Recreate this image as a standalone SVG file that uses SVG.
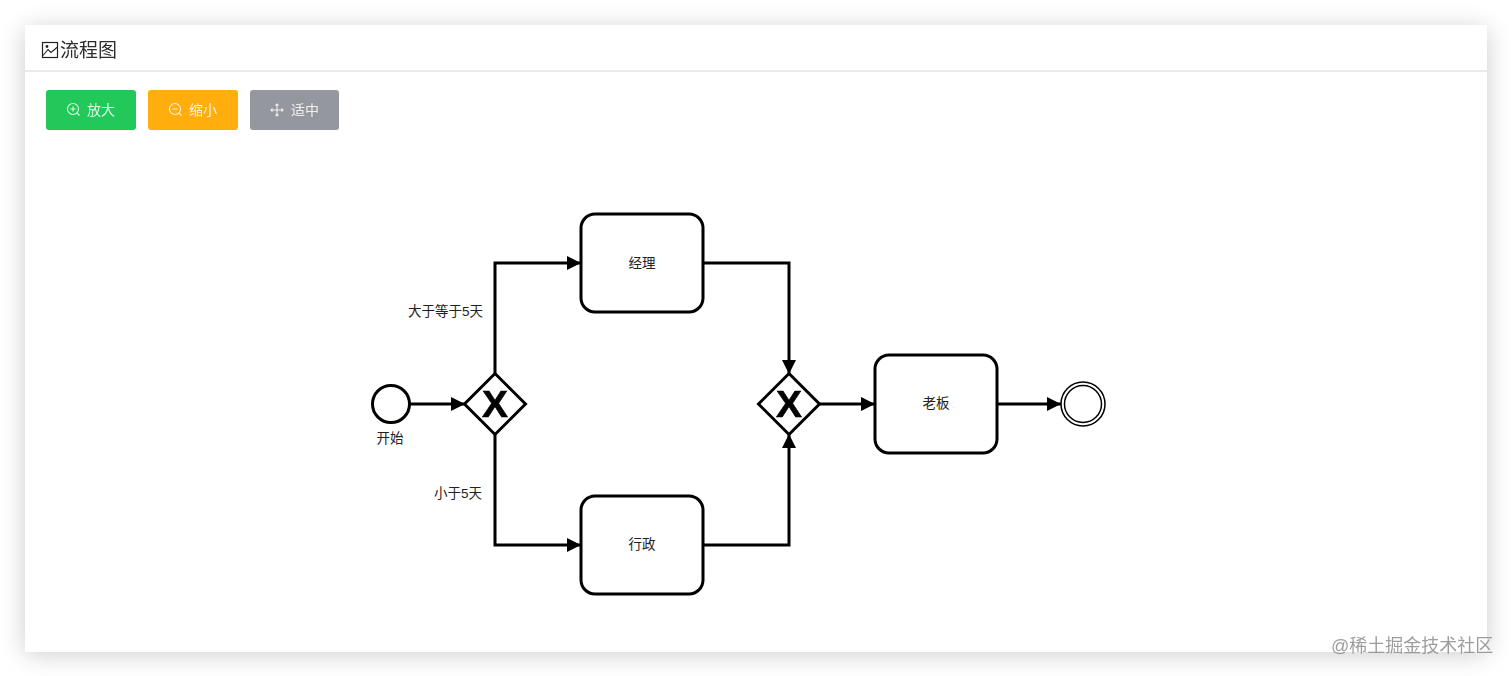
<svg xmlns="http://www.w3.org/2000/svg" width="1512" height="676" viewBox="0 0 1512 676">
<style>
text{font-family:"Liberation Sans","Noto Sans CJK SC",sans-serif}
.n{fill:#fff;stroke:#000;stroke-width:3}
.l{font-size:13.500px;fill:#222;text-anchor:middle}
.c{fill:none;stroke:#000;stroke-width:3;marker-end:url(#a)}
.b{font-size:14px;fill:#fff;opacity:.85}
.i{fill:none;stroke:#fff;stroke-width:1.100;opacity:.85}
.x{font-size:37px;font-weight:700;fill:#000;stroke:#000;stroke-width:.6;text-anchor:middle;opacity:.99}
</style>
<defs>
<filter id="s" x="-5%" y="-10%" width="110%" height="120%"><feGaussianBlur stdDeviation="13"/></filter>
<marker id="a" markerUnits="userSpaceOnUse" markerWidth="16" markerHeight="16" refX="15" refY="8" orient="auto"><path d="M1 1L15 8L1 15Z" fill="#000"/></marker>
</defs>
<rect width="1512" height="676" fill="#fff"/>
<rect x="25" y="29" width="1462" height="625" fill="#000" opacity=".2" filter="url(#s)"/>
<rect x="25" y="25" width="1462" height="627" fill="#fff"/>
<rect x="25" y="70" width="1462" height="2" fill="#e8e9eb"/>
<g id="title">
<rect x="42.500" y="42.500" width="15" height="15" fill="none" stroke="#222" stroke-width="1.200"/>
<path d="M43 55.500L48 49.500L51 52.500L57.500 47" fill="none" stroke="#222" stroke-width="1.100"/>
<circle cx="47" cy="46.500" r="1.400" fill="#222"/>
<text x="60" y="57" font-size="19px" fill="#222" opacity=".95">流程图</text>
</g>
<g id="btn-zoom-in">
<rect x="46" y="90" width="90" height="40" rx="3" fill="#22c95a"/>
<circle cx="73" cy="109" r="5.500" class="i"/><path d="M77 113L79.500 115.500M70.500 109H75.500M73 106.500V111.500" class="i"/>
<text x="87" y="115" class="b">放大</text>
</g>
<g id="btn-zoom-out">
<rect x="148" y="90" width="90" height="40" rx="3" fill="#ffae0d"/>
<circle cx="175" cy="109" r="5.500" class="i"/><path d="M179 113L181.500 115.500M172.500 109H177.500" class="i"/>
<text x="189" y="115" class="b">缩小</text>
</g>
<g id="btn-fit">
<rect x="250" y="90" width="89" height="40" rx="3" fill="#94979d"/>
<path d="M271 110H283M277 104V116M272.500 108.500L271 110L272.500 111.500M281.500 108.500L283 110L281.500 111.500M275.500 105.500L277 104L278.500 105.500M275.500 114.500L277 116L278.500 114.500" class="i"/>
<text x="291" y="115" class="b">适中</text>
</g>
<g id="connectors">
<path class="c" d="M410 404H465"/>
<path class="c" d="M495 373V263H581"/>
<path class="c" d="M495 435V545H581"/>
<path class="c" d="M704 263H789V374"/>
<path class="c" d="M704 545H789V434"/>
<path class="c" d="M820 404H875"/>
<path class="c" d="M998 404H1061"/>
</g>
<g id="start"><circle class="n" cx="391" cy="404" r="18.500"/><text class="l" x="390" y="443">开始</text></g>
<g id="gw1"><path class="n" d="M495 373.500L525.500 404L495 434.500L464.500 404Z"/><text class="x" transform="translate(495 417) scale(1.050 1)">X</text></g>
<g id="manager"><rect class="n" x="581" y="214" width="122" height="98" rx="14"/><text class="l" x="642" y="267.500">经理</text></g>
<g id="admin"><rect class="n" x="581" y="496" width="122" height="98" rx="14"/><text class="l" x="642" y="549">行政</text></g>
<g id="gw2"><path class="n" d="M789 373.500L819.500 404L789 434.500L758.500 404Z"/><text class="x" transform="translate(789 417) scale(1.050 1)">X</text></g>
<g id="boss"><rect class="n" x="875" y="355" width="122" height="98" rx="14"/><text class="l" x="936" y="408">老板</text></g>
<g id="end"><circle cx="1083" cy="404" r="22" fill="#fff" stroke="#000" stroke-width="1.500"/><circle cx="1083" cy="404" r="18.500" fill="#fff" stroke="#000" stroke-width="1.500"/></g>
<text class="l" x="445.500" y="316">大于等于5天</text>
<text class="l" x="458" y="498">小于5天</text>
<text x="1331" y="652" font-size="18px" fill="#8c8c8c" opacity=".85">@稀土掘金技术社区</text>
</svg>
